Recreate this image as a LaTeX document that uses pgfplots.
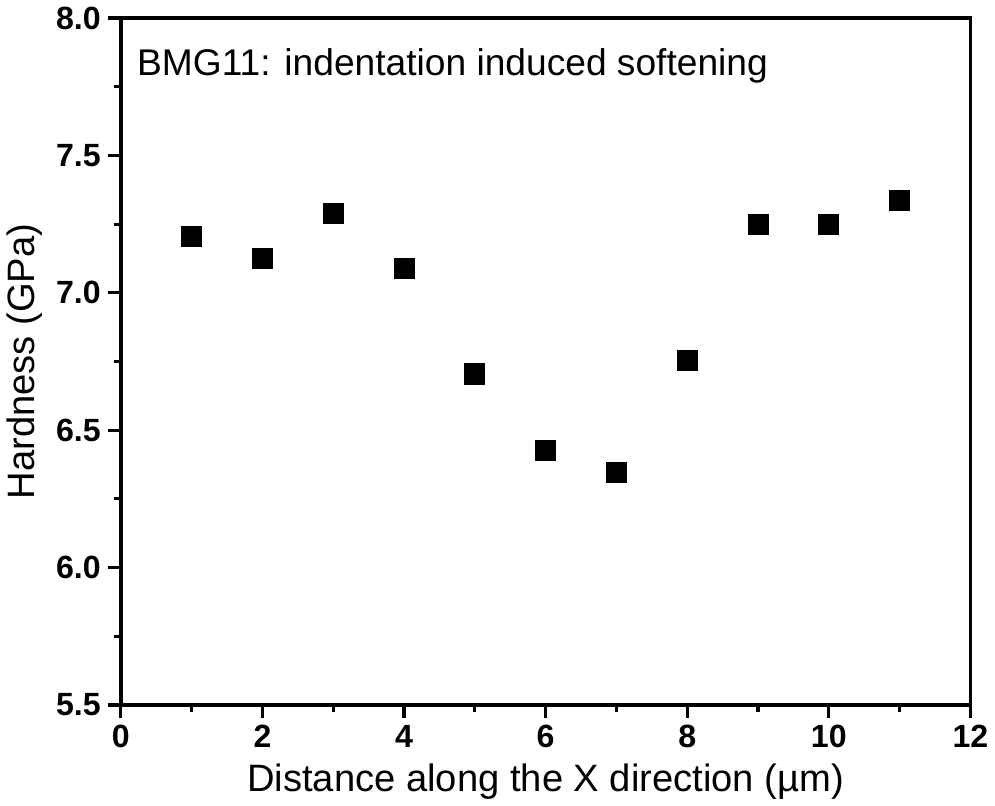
\documentclass[border=0pt]{standalone}
\usepackage{pgfplots}
\pgfplotsset{compat=1.18}
\usepackage{fontspec}
\setmainfont{Liberation Sans}
\begin{document}
\begin{tikzpicture}
\begin{axis}[
    width=423pt, height=342pt,
    scale only axis,
    xmin=0, xmax=12, ymin=5.5, ymax=8.0,
    xtick={0,2,...,12}, ytick={5.5,6.0,...,8.0},
    minor x tick num=1, minor y tick num=1,
    tick align=outside,
    xtick pos=bottom, ytick pos=left,
    major tick length=6.5pt, minor tick length=3.5pt,
    every tick/.style={line width=1.6pt, black},
    axis line style={line width=1.8pt},
    /pgf/number format/assume math mode=true,
    yticklabel style={font=\fontsize{16}{18}\selectfont\bfseries, /pgf/number format/.cd, fixed, fixed zerofill, precision=1},
    xticklabel style={font=\fontsize{16}{18}\selectfont\bfseries},
    xlabel={Distance along the X direction (\textmu m)},
    ylabel={Hardness (GPa)},
    label style={font=\fontsize{19}{21}\selectfont},
    xlabel style={yshift=-1pt},
    ylabel style={yshift=0pt},
    clip=false,
]
\addplot[only marks, mark=square*, mark size=5pt, mark options={fill=black, draw=black}] coordinates {
  (1,7.205) (2,7.125) (3,7.29) (4,7.09) (5,6.705) (6,6.425)
  (7,6.345) (8,6.755) (9,7.25) (10,7.25) (11,7.335)
};
\node[anchor=west, font=\fontsize{18.5}{20}\selectfont] at (axis cs:0.13,7.827) {BMG11: indentation induced softening};
\end{axis}
\end{tikzpicture}
\end{document}
